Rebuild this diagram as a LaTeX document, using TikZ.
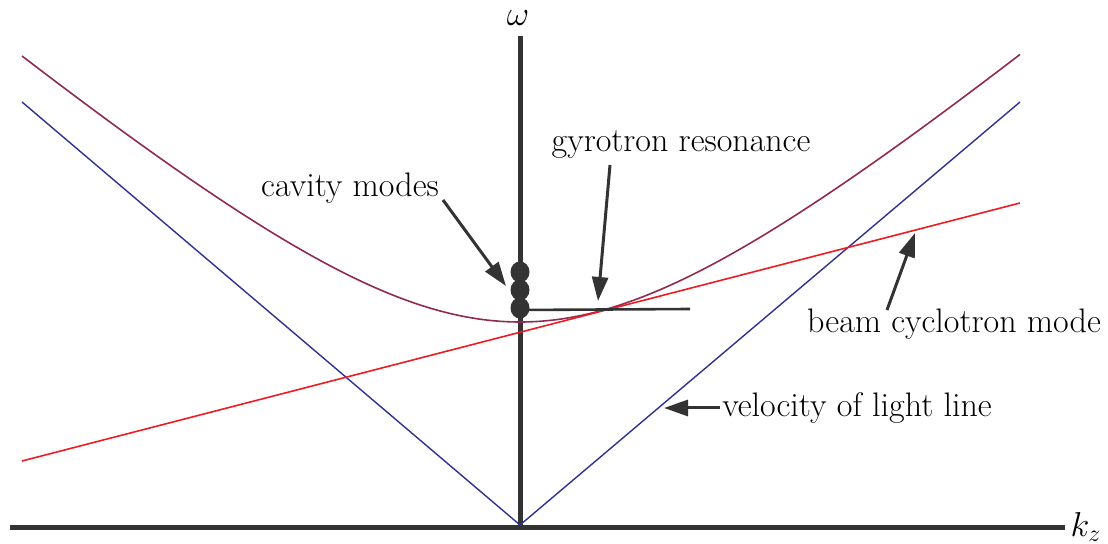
\documentclass[tikz,border=0pt]{standalone}
\usetikzlibrary{arrows.meta}
\definecolor{axisgray}{HTML}{333333}
\definecolor{lightblue}{HTML}{2E3192}
\definecolor{hyp}{HTML}{922A50}
\definecolor{beamred}{HTML}{ED1C24}
\begin{document}
\begin{tikzpicture}[x=0.5pt,y=-0.5pt,
  lbl/.style={font=\fontsize{17}{19}\selectfont, inner sep=0pt},
  ptr/.style={draw=axisgray, line width=1.5pt, -{Triangle[length=12pt,width=8pt]}},
  axisline/.style={draw=axisgray, line width=2.5pt}]
\useasboundingbox (0,0) rectangle (1108,544);
% axes
\coordinate (xl) at (10,528);
\coordinate (xr) at (1065,528);
\coordinate (O) at (520,528);
\coordinate (yt) at (520,36);
\draw[axisline] (xl) -- (xr);
\draw[axisline] (O) -- (yt);
\node[lbl] (kz) at (1086,527) {$k_z$};
\node[lbl] (om) at (518,18) {$\omega$};
% light lines
\coordinate (L0) at (520,525);
\coordinate (LL) at (22,102);
\coordinate (LR) at (1020,102);
\draw[lightblue, line width=0.7pt] (LL) -- (L0) -- (LR);
% hyperbola
\draw[hyp, line width=0.8pt] plot[domain=-498:500, samples=120, smooth]
  ({520+\x},{525-10*sqrt(412.09+(0.0849*\x)^2)});
% beam line
\coordinate (B1) at (22,461);
\coordinate (B2) at (1020,203);
\draw[beamred, line width=0.8pt] (B1) -- (B2);
% resonance line
\coordinate (R1) at (520,310);
\coordinate (R2) at (690,309);
\draw[axisgray, line width=1.3pt] (R1) -- (R2);
% cavity modes dots
\fill[axisgray] (520,272) ellipse [x radius=9.5, y radius=10.5];
\fill[axisgray] (520,290) ellipse [x radius=9.5, y radius=10.5];
\fill[axisgray] (520,308) ellipse [x radius=9.5, y radius=10.5];
% labels
\node[lbl] (cav) at (350,188) {cavity modes};
\node[lbl] (gyr) at (681,145) {gyrotron resonance};
\node[lbl] (beam) at (954,324) {beam cyclotron mode};
\node[lbl] (vel) at (857,408) {velocity of light line};
% pointers
\coordinate (cavT) at (506,286);
\coordinate (gyrT) at (598,301);
\coordinate (beamT) at (915,233);
\coordinate (velT) at (664,408);
\draw[ptr] (443,200) -- (cavT);
\draw[ptr] (610,165) -- (gyrT);
\draw[ptr] (887,310) -- (beamT);
\draw[ptr] (vel.west) ++(-2,0) -- (velT);
\end{tikzpicture}
\end{document}
